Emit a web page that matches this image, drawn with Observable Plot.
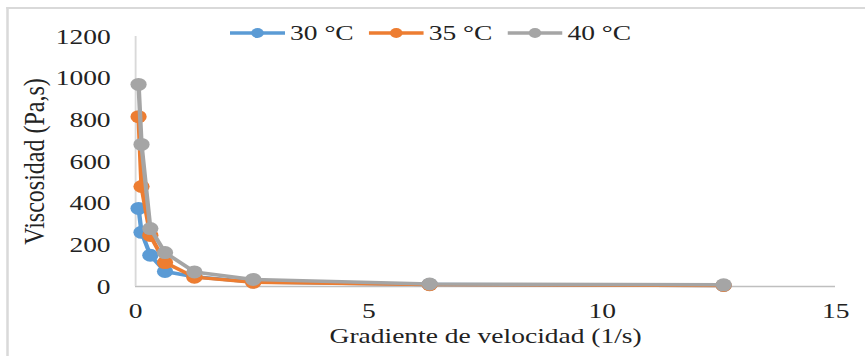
<!DOCTYPE html>
<html>
<head>
<meta charset="utf-8">
<script src="https://cdn.jsdelivr.net/npm/d3@7"></script>
<script src="https://cdn.jsdelivr.net/npm/@observablehq/plot@0.6"></script>
<style>
  html, body { margin: 0; padding: 0; background: #fff; }
  #stage { position: relative; width: 692px; height: 356px; transform: scale(1.25, 1); transform-origin: 0 0; font-family: "Liberation Serif", "Times New Roman", serif; }
  #frame { position: absolute; left: 5px; top: 7px; right: -20px; bottom: -20px; border-top: 2px solid #d9d9d9; border-left: 2px solid #d9d9d9; }
  #legend { position: absolute; top: 20px; left: 184px; display: flex; align-items: center; font-size: 22px; color: #222; }
  #legend .item { display: flex; align-items: center; margin-right: 12px; }
  #legend svg { margin-right: 4px; }
  #chart { position: absolute; left: 0; top: 0; }
</style>
</head>
<body>
<div id="stage">
  <div id="frame"></div>
  <div id="chart"></div>
  <div id="legend"></div>
</div>
<script>
// Shear rate (1/s)
const shearRate = [0.063, 0.126, 0.315, 0.63, 1.26, 2.52, 6.3, 12.6];
// Viscosity (Pa,s) per temperature
const visc30 = [375, 260, 150, 72, 47, 22, 10, 5];
const visc35 = [815, 480, 245, 115, 45, 20, 9, 5];
const visc40 = [970, 682, 278, 163, 70, 34, 12, 8];
const seriesNames = ["30 °C", "35 °C", "40 °C"];
const seriesColors = ["#5B9BD5", "#ED7D31", "#A5A5A5"];
const xTicks = [0, 5, 10, 15];
const yTicks = [0, 200, 400, 600, 800, 1000, 1200];

const seriesValues = [visc30, visc35, visc40];
const data = [];
seriesValues.forEach((vals, si) => {
  vals.forEach((v, i) => data.push({series: seriesNames[si], x: shearRate[i], y: v}));
});

const marks = [
  Plot.ruleY([0], {stroke: "#bfbfbf", strokeWidth: 1.5}),
  Plot.ruleX([0], {stroke: "#d9d9d9", strokeWidth: 1.5}),
];
seriesNames.forEach((name, si) => {
  const d = data.filter(r => r.series === name);
  marks.push(Plot.line(d, {x: "x", y: "y", stroke: seriesColors[si], strokeWidth: 3.5}));
  marks.push(Plot.dot(d, {x: "x", y: "y", fill: seriesColors[si], r: 6.5, stroke: "none"}));
});

const chart = Plot.plot({
  width: 692,
  height: 356,
  marginLeft: 108,
  marginRight: 24,
  marginTop: 36,
  marginBottom: 70,
  style: {fontFamily: "Liberation Serif, Times New Roman, serif", fontSize: "22px", color: "#222", background: "transparent"},
  x: {domain: [0, 15], ticks: xTicks, tickFormat: d => String(d), tickSize: 0, tickPadding: 16, label: "Gradiente de velocidad (1/s)", labelAnchor: "center", labelArrow: "none", labelOffset: 56},
  y: {domain: [0, 1200], ticks: yTicks, tickFormat: d => String(d), tickSize: 0, tickPadding: 20, label: "Viscosidad (Pa,s)", labelAnchor: "center", labelArrow: "none", labelOffset: 90},
  marks
});
const yLabel = chart.querySelector('g[aria-label="y-axis label"]');
if (yLabel) yLabel.setAttribute("font-size", "24");
document.getElementById("chart").appendChild(chart);

const legend = document.getElementById("legend");
seriesNames.forEach((name, si) => {
  const item = document.createElement("div");
  item.className = "item";
  item.innerHTML = `<svg width="44" height="14"><line x1="0" x2="44" y1="7" y2="7" stroke="${seriesColors[si]}" stroke-width="3.5"/><circle cx="22" cy="7" r="5" fill="${seriesColors[si]}"/></svg><span>${name}</span>`;
  legend.appendChild(item);
});
</script>
</body>
</html>
